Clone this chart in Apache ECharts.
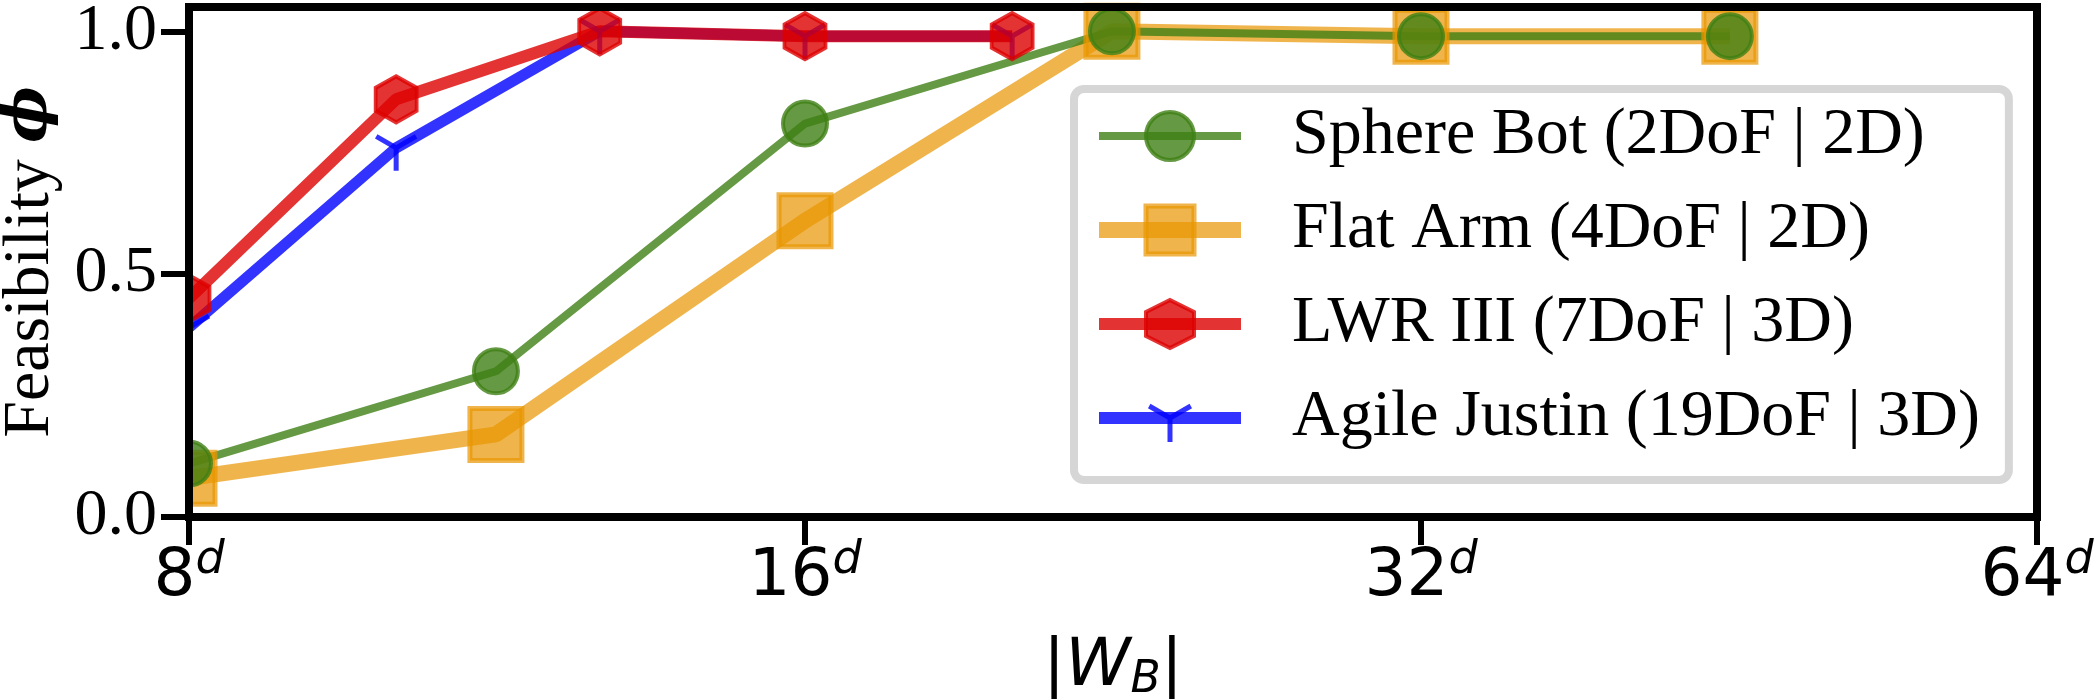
<!DOCTYPE html>
<html>
<head>
    <meta charset="utf-8">
    <title>feasibility</title>
    <script src="https://cdn.jsdelivr.net/npm/echarts@6/dist/echarts.min.js"></script>
    <style>
        html, body { margin: 0; padding: 0; background: #fff; }
        #main { width: 2100px; height: 699px; }
    </style>
</head>
<body>
<div id="main"></div>
<script>
    // |W_B| values (log2 axis) and feasibility per robot
    var sphereX = [8, 11.3, 16, 22.6, 32, 45.3];
    var sphereY = [0.11, 0.30, 0.81, 1.00, 0.99, 0.99];
    var flatX = [8, 11.3, 16, 22.6, 32, 45.3];
    var flatY = [0.08, 0.17, 0.61, 1.00, 0.99, 0.99];
    var lwrX = [8, 10.1, 12.7, 16, 20.2];
    var lwrY = [0.45, 0.86, 1.00, 0.99, 0.99];
    var justinX = [8, 10.1, 12.7, 16, 20.2];
    var justinY = [0.39, 0.76, 1.00, 0.99, 0.99];
    var names = ['Sphere Bot (2DoF | 2D)', 'Flat Arm (4DoF | 2D)', 'LWR III (7DoF | 3D)', 'Agile Justin (19DoF | 3D)'];
    var yTicks = [0, 0.5, 1.0];

    var GREEN = '#3f7f14', ORANGE = '#e89600', RED = '#dd0000', BLUE = '#0000ff';
    var GRID = {left: 189, right: 63, top: 7, bottom: 182, outerBoundsMode: 'none'};
    var HEX = 'path://M0,-1 L0.866,-0.5 L0.866,0.5 L0,1 L-0.866,0.5 L-0.866,-0.5 Z';
    var TRI = 'path://M-1,-1 M1,1 M0,0 L0,1 M0,0 L-0.866,-0.5 M0,0 L0.866,-0.5';

    function pairs(xs, ys) {
        return xs.map(function (x, i) { return [x, ys[i]]; });
    }

    var chart = echarts.init(document.getElementById('main'));

    var frame = {show: true, onZero: false, lineStyle: {color: '#000', width: 8, cap: 'square'}};

    var option = {
        backgroundColor: '#fff',
        animation: false,
        grid: GRID,
        graphic: [{
            // hides marker halves that fall outside the left frame
            type: 'rect', z: 3,
            shape: {x: 0, y: 0, width: GRID.left - 3, height: 699},
            style: {fill: '#fff'}
        }],
        legend: {
            orient: 'vertical', left: 1074, top: 89, z: 5,
            padding: [14, 29, 29, 17],
            itemWidth: 142, itemHeight: 60, itemGap: 28,
            backgroundColor: '#fff', borderColor: '#d6d6d6', borderWidth: 8, borderRadius: 10,
            selectedMode: false,
            textStyle: {fontFamily: 'Liberation Serif', fontSize: 66, color: '#000', padding: [0, 0, 0, 46]},
            data: [
                {name: names[0], itemStyle: {borderWidth: 4, opacity: 0.8}, lineStyle: {width: 8, opacity: 0.8}},
                {name: names[1], itemStyle: {borderWidth: 5, opacity: 0.7}, lineStyle: {width: 16, opacity: 0.7}},
                {name: names[2], itemStyle: {borderWidth: 4, opacity: 0.8}, lineStyle: {width: 12, opacity: 0.8}},
                {name: names[3], itemStyle: {borderWidth: 5, opacity: 0.8}, lineStyle: {width: 12, opacity: 0.8}}
            ]
        },
        xAxis: [{
            type: 'log', logBase: 2, min: 8, max: 64, z: 4,
            axisLine: frame,
            axisTick: {show: true, length: 28, lineStyle: {color: '#000', width: 6}},
            splitLine: {show: false},
            axisLabel: {
                margin: 21, color: '#000',
                formatter: function (v) { return '{n|' + Math.round(v) + '}{s|d}'; },
                rich: {
                    n: {fontFamily: 'DejaVu Sans', fontSize: 66, lineHeight: 80, color: '#000'},
                    s: {fontFamily: 'DejaVu Sans', fontStyle: 'italic', fontSize: 46, padding: [0, 0, 34, 0], color: '#000'}
                }
            },
            name: '{p||}{w|W}{b|B}{p||}',
            nameLocation: 'middle', nameGap: 116,
            nameTextStyle: {
                color: '#000',
                rich: {
                    p: {fontFamily: 'DejaVu Sans', fontSize: 66, lineHeight: 70, color: '#000'},
                    w: {fontFamily: 'DejaVu Sans', fontStyle: 'italic', fontSize: 66, lineHeight: 70, color: '#000'},
                    b: {fontFamily: 'DejaVu Sans', fontStyle: 'italic', fontSize: 44, lineHeight: 30, verticalAlign: 'bottom', color: '#000'}
                }
            }
        }, {
            type: 'log', logBase: 2, min: 8, max: 64, position: 'top', z: 4,
            axisLine: frame, axisTick: {show: false}, axisLabel: {show: false}, splitLine: {show: false}
        }],
        yAxis: [{
            type: 'value', min: 0, max: 1.05, z: 4,
            axisLine: frame,
            axisTick: {show: true, length: 28, customValues: yTicks, lineStyle: {color: '#000', width: 6}},
            splitLine: {show: false},
            axisLabel: {
                margin: 32, customValues: yTicks,
                fontFamily: 'Liberation Serif', fontSize: 66, color: '#000',
                formatter: function (v) { return v.toFixed(1); }
            },
            name: 'Feasibility {p|\u03D5}',
            nameLocation: 'middle', nameRotate: 90, nameGap: 124,
            nameTextStyle: {
                fontFamily: 'Liberation Serif', fontSize: 66, color: '#000',
                rich: {p: {fontFamily: 'DejaVu Serif', fontStyle: 'italic', fontWeight: 'bold', fontSize: 60, color: '#000'}}
            }
        }, {
            type: 'value', min: 0, max: 1.05, position: 'right', z: 4,
            axisLine: frame, axisTick: {show: false}, axisLabel: {show: false}, splitLine: {show: false}
        }],
        series: [
            {
                name: names[1], type: 'line', clip: false, z: 2,
                data: pairs(flatX, flatY),
                symbol: 'rect', symbolSize: 52,
                lineStyle: {color: ORANGE, width: 16, opacity: 0.7},
                itemStyle: {color: ORANGE, borderColor: ORANGE, borderWidth: 5, opacity: 0.7}
            },
            {
                name: names[0], type: 'line', clip: false, z: 2,
                data: pairs(sphereX, sphereY),
                symbol: 'circle', symbolSize: 44,
                lineStyle: {color: GREEN, width: 8, opacity: 0.8},
                itemStyle: {color: GREEN, borderColor: GREEN, borderWidth: 4, opacity: 0.8}
            },
            {
                name: names[3], type: 'line', clip: false, z: 2,
                data: pairs(justinX, justinY),
                symbol: TRI, symbolSize: 46,
                lineStyle: {color: BLUE, width: 11, opacity: 0.8},
                itemStyle: {color: BLUE, borderColor: BLUE, borderWidth: 5, opacity: 0.8}
            },
            {
                name: names[2], type: 'line', clip: false, z: 2,
                data: pairs(lwrX, lwrY),
                symbol: HEX, symbolSize: [41, 46],
                lineStyle: {color: RED, width: 12, opacity: 0.8},
                itemStyle: {color: RED, borderColor: RED, borderWidth: 4, opacity: 0.8}
            }
        ]
    };

    chart.setOption(option);
</script>
</body>
</html>
